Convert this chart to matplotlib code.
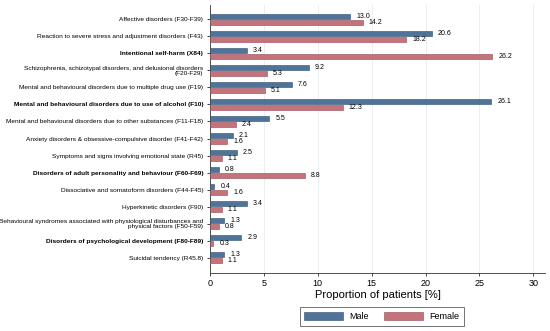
import matplotlib
matplotlib.use("Agg")
import matplotlib.pyplot as plt
import numpy as np

categories = [
    "Affective disorders (F30-F39)",
    "Reaction to severe stress and adjustment disorders (F43)",
    "Intentional self-harm (X84)",
    "Schizophrenia, schizotypal disorders, and delusional disorders\n(F20-F29)",
    "Mental and behavioural disorders due to multiple drug use (F19)",
    "Mental and behavioural disorders due to use of alcohol (F10)",
    "Mental and behavioural disorders due to other substances (F11-F18)",
    "Anxiety disorders & obsessive-compulsive disorder (F41-F42)",
    "Symptoms and signs involving emotional state (R45)",
    "Disorders of adult personality and behaviour (F60-F69)",
    "Dissociative and somatoform disorders (F44-F45)",
    "Hyperkinetic disorders (F90)",
    "Behavioural syndromes associated with physiological disturbances and\nphysical factors (F50-F59)",
    "Disorders of psychological development (F80-F89)",
    "Suicidal tendency (R45.8)",
]
bold_rows = [2, 5, 9, 13]
male = [13.0, 20.6, 3.4, 9.2, 7.6, 26.1, 5.5, 2.1, 2.5, 0.8, 0.4, 3.4, 1.3, 2.9, 1.3]
female = [14.2, 18.2, 26.2, 5.3, 5.1, 12.3, 2.4, 1.6, 1.1, 8.8, 1.6, 1.1, 0.8, 0.3, 1.1]

MALE_COLOR = "#4f7399"
FEMALE_COLOR = "#c4737b"

plt.rcParams["font.family"] = ["Liberation Sans", "DejaVu Sans"]

fig = plt.figure(figsize=(5.5, 3.31), dpi=100)
ax = fig.add_axes([0.382, 0.175, 0.609, 0.81])

y = np.arange(len(categories))
h = 0.3
ax.barh(y - 0.165, male, height=h, color=MALE_COLOR, edgecolor="#2f4f6f",
        linewidth=0.4, label="Male", zorder=3)
ax.barh(y + 0.165, female, height=h, color=FEMALE_COLOR, edgecolor="#8f4a52",
        linewidth=0.4, label="Female", zorder=3)

for yi, m, f in zip(y, male, female):
    ax.text(m + 0.55, yi - 0.2, f"{m:.1f}", fontsize=5, va="center", ha="left")
    ax.text(f + 0.55, yi + 0.2, f"{f:.1f}", fontsize=5, va="center", ha="left")

ax.set_xlim(0, 31.1)
ax.set_ylim(len(categories) - 1 + 0.91, -0.85)
ax.set_xticks([0, 5, 10, 15, 20, 25, 30])
ax.set_yticks(y)
ax.set_yticklabels(categories, fontsize=4.65, linespacing=0.95)
for i, lbl in enumerate(ax.get_yticklabels()):
    lbl.set_horizontalalignment("right")
    lbl.set_multialignment("right")
    if i in bold_rows:
        lbl.set_fontweight("bold")
ax.tick_params(axis="y", length=2, width=0.5, pad=3)
ax.tick_params(axis="x", length=2, width=0.5, labelsize=6.5, pad=2)

ax.grid(axis="x", color="#e6edf2", linewidth=0.6, zorder=0)
for side in ["top", "right"]:
    ax.spines[side].set_visible(False)
for side in ["left", "bottom"]:
    ax.spines[side].set_linewidth(0.6)
    ax.spines[side].set_color("#333333")

ax.set_xlabel("Proportion of patients [%]", fontsize=8, labelpad=2)

leg = fig.legend(loc="center", bbox_to_anchor=(0.694, 0.044), ncol=2, fontsize=6.5,
                 frameon=True, fancybox=False, edgecolor="#333333",
                 handlelength=4.3, handleheight=1.1, columnspacing=1.7,
                 borderpad=0.5, handletextpad=0.7)
leg.get_frame().set_linewidth(0.6)

fig.savefig("out.png", dpi=100, facecolor="white")
